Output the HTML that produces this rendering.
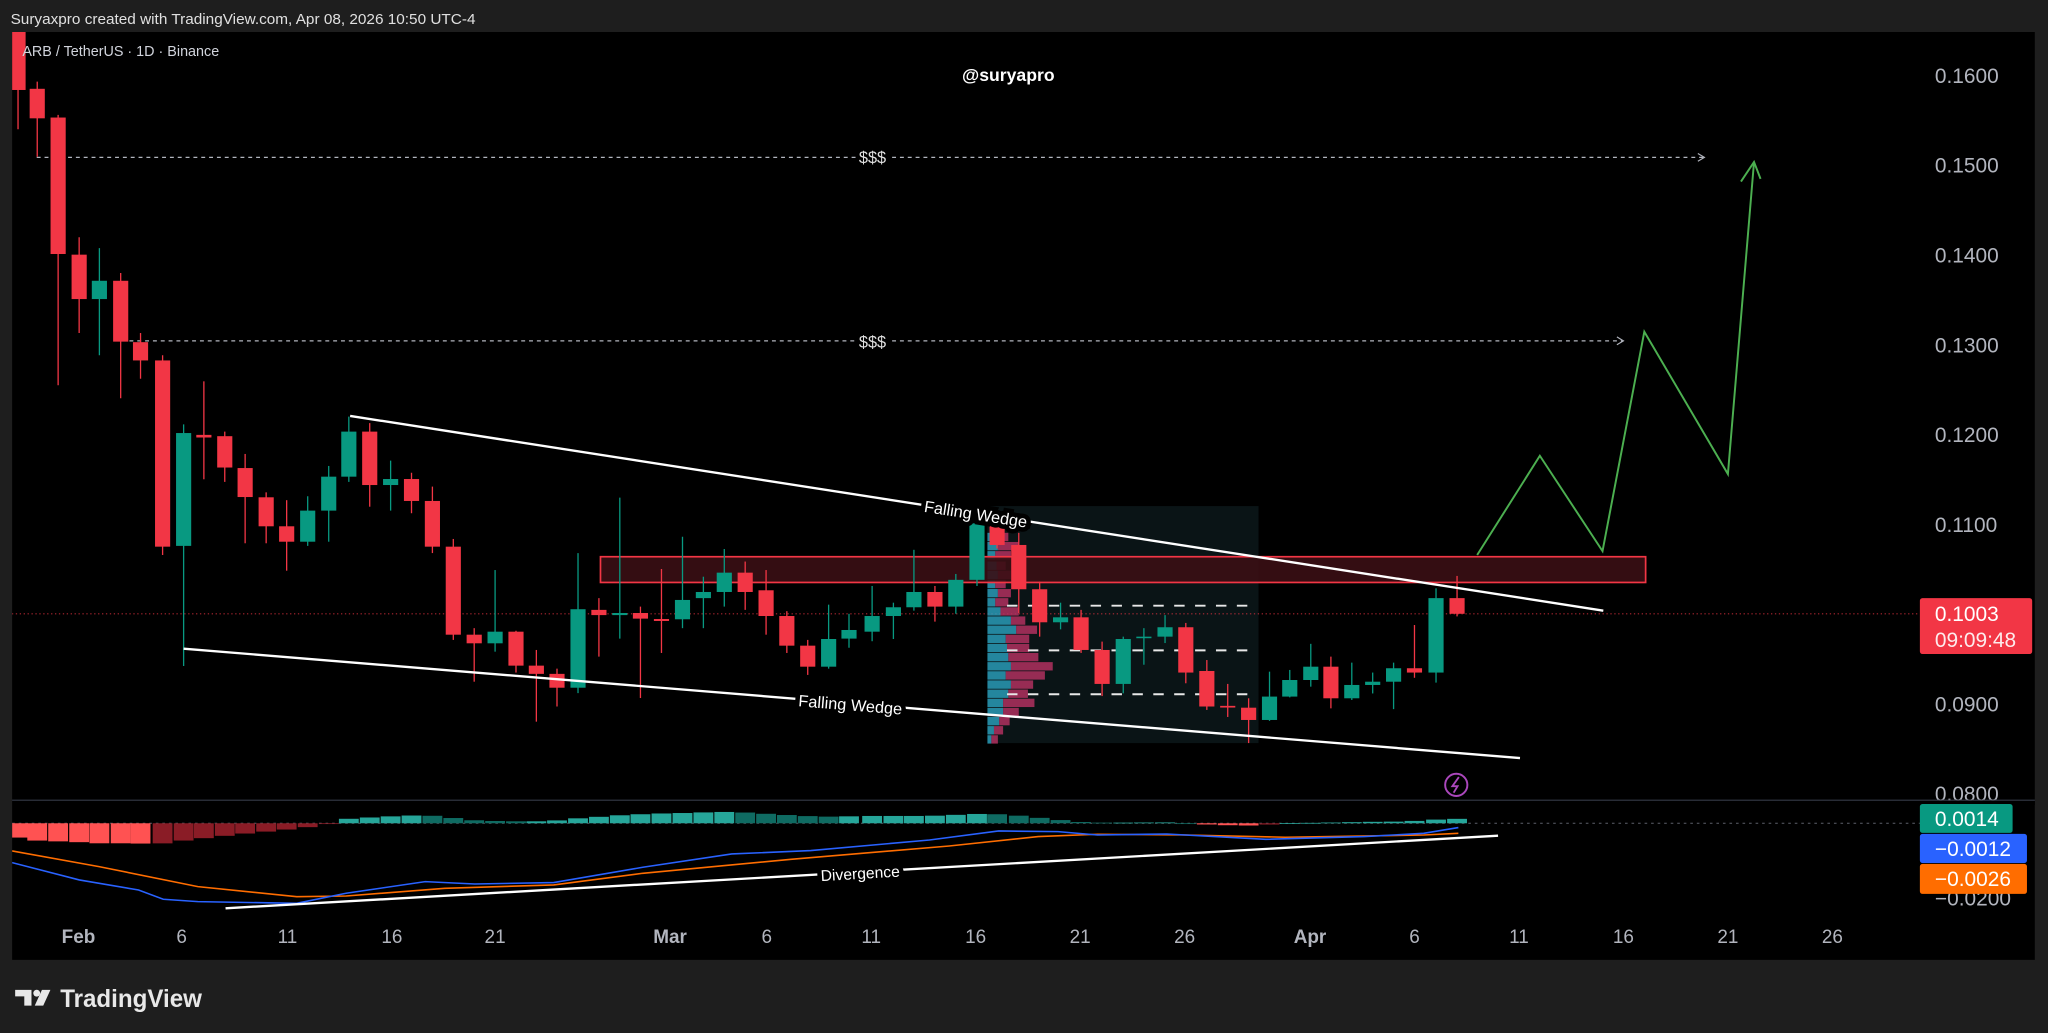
<!DOCTYPE html>
<html><head><meta charset="utf-8">
<style>
html,body{margin:0;padding:0;background:#1e1e1e;overflow:hidden}
svg{display:block}
text{font-family:"Liberation Sans",sans-serif}
</style></head>
<body>
<svg id="s" width="2048" height="1033" viewBox="0 0 1568 791" xmlns="http://www.w3.org/2000/svg">
<rect x="0" y="0" width="1568" height="791" fill="#1e1e1e"/>
<rect x="9.2" y="24.5" width="1548.8" height="710.5" fill="#000"/>
<text x="8" y="18.5" font-size="11.5" fill="#e0e0e0" textLength="356" lengthAdjust="spacingAndGlyphs">Suryaxpro created with TradingView.com, Apr 08, 2026 10:50 UTC-4</text>
<g id="g"></g>
</svg>
<script>
var NS="http://www.w3.org/2000/svg",g=document.getElementById('g'),h='';
function L(x1,y1,x2,y2,c,w,extra){h+='<line x1="'+x1+'" y1="'+y1+'" x2="'+x2+'" y2="'+y2+'" stroke="'+c+'" stroke-width="'+w+'" '+(extra||'')+'/>';}
function R(x,y,w,hh,f,extra){h+='<rect x="'+x+'" y="'+y+'" width="'+w+'" height="'+hh+'" fill="'+f+'" '+(extra||'')+'/>';}
function T(x,y,s,t,c,extra){h+='<text x="'+x+'" y="'+y+'" font-size="'+s+'" fill="'+c+'" '+(extra||'')+'>'+t+'</text>';}
// clip for price pane
h+='<defs><clipPath id="cp"><rect x="9.2" y="24.5" width="1460" height="588"/></clipPath><clipPath id="cm"><rect x="9.2" y="613" width="1460" height="90"/></clipPath></defs>';
// volume profile box
R(756,387.5,207.6,181.5,'#0a1416');
h+='<g clip-path="url(#cp)">';
// current price dotted line
L(9,470,1470,470,'#f23645',0.8,'stroke-dasharray="1,2" opacity="0.7"');
// $$$ lines
L(28,120.5,655,120.5,'#b2b5be',0.9,'stroke-dasharray="3,3"');
L(683,120.5,1304,120.5,'#b2b5be',0.9,'stroke-dasharray="3,3"');
h+='<path d="M1300,117.5 L1305,120.5 L1300,123.5" stroke="#b2b5be" fill="none" stroke-width="0.9"/>';
L(99,261,655,261,'#b2b5be',0.9,'stroke-dasharray="3,3"');
L(683,261,1242,261,'#b2b5be',0.9,'stroke-dasharray="3,3"');
h+='<path d="M1238,258 L1243,261 L1238,264" stroke="#b2b5be" fill="none" stroke-width="0.9"/>';
T(668,125,12.5,'$$$','#e0e0e0','text-anchor="middle"');
T(668,266,12.5,'$$$','#e0e0e0','text-anchor="middle"');
// volume profile bars
var vp=[[408,6,12],[415,8,20],[422,6,14],[430,7,10],[437,8,14],[444,6,10],[451,8,14],[458,6,12],[465,10,20],[472,18,25],[479,22,34],[486,14,28],[493,15,28],[500,16,35],[507,18,46],[514,14,40],[521,18,31],[528,16,27],[535,12,32],[542,12,20],[549,9,13],[556,5,8],[563,3,4]];
vp.forEach(function(v){R(756,v[0],v[1],6.4,'#2aa3c0','opacity="0.8"');R(756+v[1],v[0],v[2]-v[1]>0?v[2]-v[1]+4:4,6.4,'#b0305f','opacity="0.85"');});
[463.8,498,531.6].forEach(function(y){L(771,y,963,y,'#e8e8e8',1.5,'stroke-dasharray="8,8"');});
// red zone
R(459.7,426.3,800.3,19.7,'#3a0e14','stroke="#f23645" stroke-width="1.3" fill-opacity="0.9"');
// candles
var C=[[13.7,20,68.9,18,99],[28.4,68,90.6,62.5,120],[44.4,90,194.5,88,295],[60.5,195,229,181.7,255],[76,229,215,190,272],[92.3,215,261.6,209,305],[107.5,262,276,255,290],[124.4,276,418.6,272,425],[140.5,418,331.6,325,510],[156,333,335,292,367],[172,334,358,330.5,369],[187.6,358.4,380.6,347.6,416],[203.7,380.8,403,377,416],[219.4,403,414.8,383,437],[235.5,414.8,391,380,418],[251.6,391,365,356.8,414.8],[267,365,330.5,319,369],[283,330.5,371.4,324,388],[299,371.4,366.8,352.7,391],[315,366.8,383.6,362,393],[331,383.6,418.6,372.6,423.5],[347,418.6,486,412.7,490],[363,486,492.6,481,522],[379,492.6,483.7,436.5,499],[395,483.7,509.7,483,515],[410.6,509.7,516,497.7,552.6],[426.4,516,526.6,512,541],[442.5,526.6,466.5,423.5,530.7],[458.5,467,471,458,502.8],[474.5,471,469.4,381,489],[490.3,469.4,473.7,464.5,534.5],[506.4,474,475.5,435.7,500],[522.5,474.2,459.4,411,481],[538.5,458,453.3,441.6,481],[554.5,453.3,438.5,420.4,464.5],[570.5,438.5,453.3,430,467],[586.5,452,471.7,436.5,486],[602.4,471.7,494.4,468,500],[618.4,494.4,510.5,490,516.8],[634.4,510.5,489.3,463,512],[650,489,482.4,470,496],[667.7,483.7,471.7,448.7,491],[684,471.7,465,461.5,489.3],[699.7,465,453.3,421,467.6],[715.8,453.3,464.5,448.7,476],[731.8,464.5,444,439.5,470],[748,444,400.7,398,448.7],[763.4,400.7,417.3,398,420],[780,417.3,451.2,408,469.4],[796,451.2,476.5,445.4,487.5],[812,476.5,472.7,461.5,481.9],[827.7,472.7,497.7,467,500],[843.8,497.7,523.7,491.3,533],[860,523.7,489.3,487.5,530.9],[875.8,488.5,487.5,481,509],[892,487.5,480.3,471,492.4],[907.9,480.3,515,477,523.2],[924,513.8,541,505.4,543.6],[940,540.5,541.8,523.7,549],[956,541.9,551.3,534.7,569],[972,551.3,533.4,514.3,552],[987.5,533.4,520.7,513,534],[1003.6,520.7,510.5,493,525.8],[1019,510.5,534.7,502.8,542.4],[1035,534.7,524.5,507.4,536],[1051,524.5,522,515,531],[1067,522,511.7,507.4,543],[1083,511.7,515,478.6,519],[1099.5,515,458,450.5,522.7],[1115.6,458,470,441,472]];
C.forEach(function(c){var up=c[2]<c[1];var col=up?'#089981':'#f23645';L(c[0],c[3],c[0],c[4],col,1);var t=Math.min(c[1],c[2]),b=Math.max(c[1],c[2]);R(c[0]-5.8,t,11.6,Math.max(b-t,1.2),col);});
// wedge lines
L(268,318.5,1227.6,467.6,'#fff',1.8);
L(140.5,496.7,1163.8,580.5,'#fff',1.8);
h+='<text x="747" y="398" font-size="12.5" fill="#fff" text-anchor="middle" transform="rotate(8.8 747 394)" stroke="#000" stroke-width="7" paint-order="stroke">Falling Wedge</text>';
h+='<text x="651" y="544" font-size="12.5" fill="#fff" text-anchor="middle" transform="rotate(4.7 651 540)" stroke="#000" stroke-width="7" paint-order="stroke">Falling Wedge</text>';
// green projection
h+='<polyline points="1131,425 1179,349 1227,422 1259,254 1323,363 1343,124" fill="none" stroke="#4caf50" stroke-width="1.5"/>';
h+='<polyline points="1333,139 1343,124 1348,137" fill="none" stroke="#4caf50" stroke-width="1.5"/>';
// lightning
h+='<circle cx="1115" cy="601" r="8.5" fill="none" stroke="#ab47bc" stroke-width="1.5"/><path d="M1117,595 L1112,602 L1116,602 L1113,607" stroke="#ab47bc" fill="none" stroke-width="1.4"/>';
h+='</g>';
// watermark / titles
T(772,62,13.5,'@suryapro','#fff','text-anchor="middle" font-weight="bold"');
T(17,43,11,'ARB / TetherUS · 1D · Binance','#d1d4dc');
// pane separator
L(9.2,612.8,1558,612.8,'#2a2e39',1);
// MACD
L(9.2,630.4,1470,630.4,'#5d606b',0.8,'stroke-dasharray="2,3"');
var HP=[[12,140],[40,153],[70,155],[100,160],[130,160],[160,162],[190,150],[220,140],[250,130],[280,122],[310,112],[330,104],[345,88],[365,84],[390,80],[410,77],[430,76],[450,80],[470,90],[490,92],[510,94],[530,94],[555,94],[580,86],[600,82],[620,77],[640,74],[660,71],[680,70],[705,68],[725,66],[745,66],[765,70],[785,73],[805,77],[830,80],[850,80],[870,78],[895,78],[915,78],[935,78],[960,76],[980,72],[1000,72],[1020,74],[1040,80],[1065,88],[1085,94],[1100,98],[1150,98],[1170,97],[1190,98],[1210,102],[1230,105],[1260,107],[1290,103],[1300,100],[1320,99],[1340,98],[1360,97],[1380,96],[1400,95],[1420,95],[1445,90],[1465,87],[1490,86]];
function interp(P,x){if(x<=P[0][0])return P[0][1];for(var i=1;i<P.length;i++){if(x<=P[i][0]){var a=P[i-1],b=P[i];return a[1]+(b[1]-a[1])*(x-a[0])/(b[0]-a[0]);}}return P[P.length-1][1];}
h+='<g clip-path="url(#cm)">';
var prev=null;
C.forEach(function(c){var zy=interp(HP,c[0]/0.757);var y=604.9+zy*0.2552;var z=630.4;var v=z-y;var col;
 if(v>=0){col=(prev!==null&&v<prev)?'#0f6b62':'#26a69a';}else{col=(prev!==null&&v>prev)?'#8a1c26':'#ff5252';}
 prev=v;R(c[0]-7.6,Math.min(y,z),15.2,Math.max(Math.abs(v),0.6),col);});
function path(P){return P.map(function(p,i){return (i?'L':'M')+(p[0]*0.757).toFixed(1)+','+(604.9+p[1]*0.2552).toFixed(1);}).join(' ');}
var BL=[[12,218],[80,270],[140,300],[165,328],[200,335],[300,340],[350,310],[430,275],[480,282],[560,278],[650,232],[740,192],[820,182],[940,150],[1010,123],[1070,125],[1110,135],[1180,132],[1280,148],[1380,140],[1440,130],[1475,113]];
var OR=[[12,183],[100,230],[200,290],[300,320],[350,318],[450,295],[560,285],[650,250],[800,208],[960,168],[1050,140],[1110,133],[1200,135],[1300,142],[1440,135],[1475,130]];
h+='<path d="'+path(OR)+'" fill="none" stroke="#ff6d00" stroke-width="1.2"/>';
h+='<path d="'+path(BL)+'" fill="none" stroke="#2962ff" stroke-width="1.2"/>';
L(172.6,695.5,1147,639.9,'#fff',1.8);
h+='<text x="658.6" y="673" font-size="12" fill="#fff" text-anchor="middle" transform="rotate(-3.3 658.6 669)" stroke="#000" stroke-width="7" paint-order="stroke">Divergence</text>';
h+='</g>';
// price axis
[[0.16,58],[0.15,126.75],[0.14,195.5],[0.13,264.25],[0.12,333],[0.11,401.75],[0.09,539.25]].forEach(function(p){T(1481.5,p[1]+5.5,16,p[0].toFixed(4),'#b2b5be');});
h+='<g clip-path="url(#cpa)"></g>';
T(1481.5,613.5,16,'0.0800','#b2b5be','clip-path="url(#cpa2)"');
T(1481.5,693.5,16,'−0.0200','#b2b5be');
// cover for 0.0800 below separator
R(1470,613.3,88,3,'#000');
L(9.2,612.8,1558,612.8,'#2a2e39',1);
// labels
R(1470,458,86,42.8,'#f23645','rx="2"');
T(1481.5,475.5,16,'0.1003','#fff');
T(1481.5,495.5,16,'09:09:48','#fff','opacity="0.9"');
R(1470,615.6,71,22.2,'#089981','rx="2"');
T(1481.5,632.5,16,'0.0014','#fff');
R(1470,638.5,82,22.3,'#2962ff','rx="2"');
T(1481.5,655.5,16,'−0.0012','#fff');
R(1470,661.5,82,23,'#ff6d00','rx="2"');
T(1481.5,678.5,16,'−0.0026','#fff');
// time axis
var TA=[['Feb',60,1],['6',139],['11',220],['16',300],['21',379],['Mar',513,1],['6',587],['11',667],['16',747],['21',827],['26',907],['Apr',1003,1],['6',1083],['11',1163],['16',1243],['21',1323],['26',1403]];
TA.forEach(function(t){T(t[1],722,14.5,t[0],'#b2b5be','text-anchor="middle"'+(t[2]?' font-weight="bold"':''));});
// logo
h+='<path d="M11.5,758 H24 V770 H18.5 V763 H11.5 Z" fill="#e8e8e8"/><circle cx="28" cy="760.5" r="2.6" fill="#e8e8e8"/><path d="M32,758 H38.5 L33,770 H26.5 Z" fill="#e8e8e8"/>';
T(46,771,19,'TradingView','#e8e8e8','font-weight="bold" textLength="108.5" lengthAdjust="spacingAndGlyphs"');
g.innerHTML=h;
</script>
</body></html>
